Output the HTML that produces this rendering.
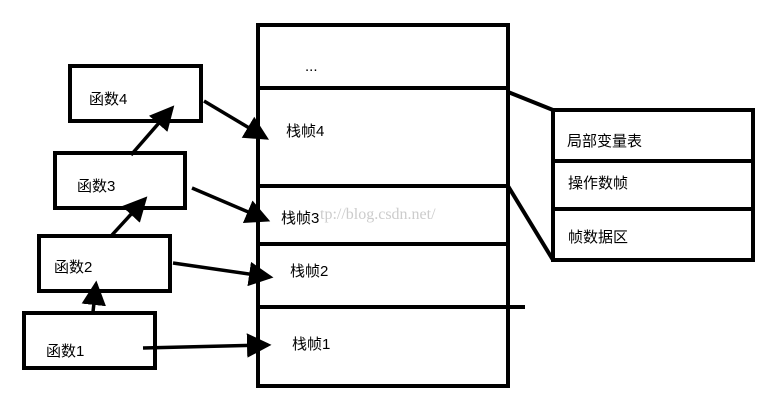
<!DOCTYPE html>
<html><head><meta charset="utf-8"><style>
html,body{margin:0;padding:0;background:#fff;}
svg{display:block;}
text{font-family:"Liberation Sans","Noto Sans CJK SC",sans-serif;font-size:15px;fill:#000;}
</style></head><body>
<svg width="767" height="407" viewBox="0 0 767 407" xmlns="http://www.w3.org/2000/svg">
<defs><marker id="a" markerWidth="7" markerHeight="7" refX="6" refY="3.5" orient="auto" markerUnits="strokeWidth"><path d="M0,0 L7,3.5 L0,7 z" fill="#000"/></marker></defs>
<g stroke="#000" stroke-width="4" fill="none">
<rect x="258" y="25" width="250" height="361"/>
<line x1="256" y1="88" x2="510" y2="88"/>
<line x1="258" y1="186" x2="508" y2="186"/>
<line x1="258" y1="244" x2="508" y2="244"/>
<line x1="258" y1="307" x2="525" y2="307"/>
<rect x="553" y="110" width="200" height="150"/>
<line x1="553" y1="161" x2="755" y2="161"/>
<line x1="555" y1="209" x2="755" y2="209"/>
<line x1="508" y1="92" x2="553" y2="110"/>
<line x1="508" y1="186" x2="553" y2="260"/>
<rect x="70" y="66" width="131" height="55"/>
<rect x="55" y="153" width="130" height="55"/>
<rect x="39" y="236" width="131" height="55"/>
<rect x="24" y="313" width="131" height="55"/>
<g stroke-width="3.5" marker-end="url(#a)">
<line x1="143" y1="348" x2="268" y2="345"/>
<line x1="173" y1="263" x2="270" y2="277"/>
<line x1="192" y1="188" x2="267" y2="220"/>
<line x1="204" y1="101" x2="266" y2="138"/>
<line x1="93" y1="312" x2="96" y2="284"/>
<line x1="112" y1="235" x2="145" y2="199"/>
<line x1="131" y1="155" x2="172" y2="108"/>
</g>
</g>
<text x="305" y="71">...</text>
<text x="286" y="136">栈帧4</text>
<text x="281" y="223">栈帧3</text>
<text x="290" y="276">栈帧2</text>
<text x="292" y="349">栈帧1</text>
<text x="567" y="146">局部变量表</text>
<text x="568" y="188">操作数帧</text>
<text x="568" y="242">帧数据区</text>
<text x="89" y="104">函数4</text>
<text x="77" y="191">函数3</text>
<text x="54" y="272">函数2</text>
<text x="46" y="356">函数1</text>
<text x="320" y="219" style="font-family:'Liberation Serif',serif;font-size:16px;fill:#ccc;">tp://blog.csdn.net/</text>
</svg>
</body></html>
